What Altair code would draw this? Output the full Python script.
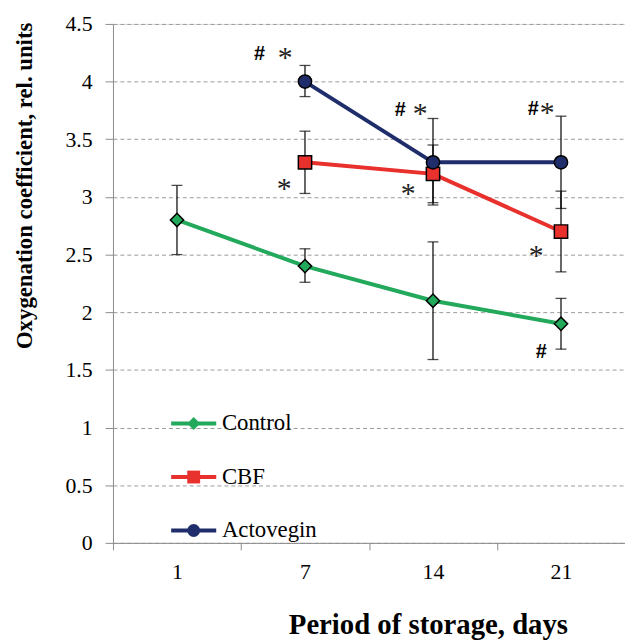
import altair as alt
import pandas as pd

# ---------------- data ----------------
days = ["1", "7", "14", "21"]
series_names = ["Control", "CBF", "Actovegin"]
colors = ["#23a95b", "#e8302d", "#1f2d6b"]
shapes = ["diamond", "square", "circle"]

control_days = ["1", "7", "14", "21"]
control_mean = [2.8, 2.4, 2.1, 1.9]
control_lo = [2.5, 2.26, 1.59, 1.68]
control_hi = [3.1, 2.55, 2.61, 2.12]

cbf_days = ["7", "14", "21"]
cbf_mean = [3.3, 3.2, 2.7]
cbf_lo = [3.03, 2.95, 2.35]
cbf_hi = [3.57, 3.45, 3.05]

act_days = ["7", "14", "21"]
act_mean = [4.0, 3.3, 3.3]
act_lo = [3.87, 2.93, 2.9]
act_hi = [4.14, 3.68, 3.7]

ann_text = ["#", "*", "*", "#", "*", "*", "#", "*", "*", "#"]
ann_day = ["7", "7", "7", "14", "14", "14", "21", "21", "21", "21"]
ann_y = [4.25, 4.25, 3.11, 3.76, 3.76, 3.07, 3.77, 3.77, 2.53, 1.66]
# horizontal nudges of the significance marks (style, px)
ann_dx = [-46, -20, -21, -33, -13, -25, -28, -14, -25, -20]

rows = []
for name, d, m, lo, hi in [
    ("Control", control_days, control_mean, control_lo, control_hi),
    ("CBF", cbf_days, cbf_mean, cbf_lo, cbf_hi),
    ("Actovegin", act_days, act_mean, act_lo, act_hi),
]:
    for i in range(len(d)):
        rows.append({"series": name, "group": name, "day": d[i], "value": m[i], "lo": lo[i], "hi": hi[i]})
df = pd.DataFrame(rows)

SERIF = "Liberation Serif"

x_enc = alt.X(
    "day:N",
    sort=days,
    scale=alt.Scale(type="band", domain=days, paddingInner=0, paddingOuter=0),
    axis=alt.Axis(
        title="Period of storage, days",
        titleFont=SERIF, titleFontSize=29, titleFontWeight="bold", titleColor="black",
        titleX=318, titleY=92, titleAlign="center", titleBaseline="alphabetic",
        labelFont=SERIF, labelFontSize=22, labelColor="black",
        labelAngle=0, labelPadding=12,
        tickBand="extent", tickSize=7, tickColor="#8c8c8c", domainColor="#8c8c8c",
        grid=False,
    ),
)
y_enc = alt.Y(
    "value:Q",
    scale=alt.Scale(domain=[0, 4.5], nice=False, zero=True),
    axis=alt.Axis(
        title="Oxygenation coefficient, rel. units",
        titleFont=SERIF, titleFontSize=23, titleFontWeight="bold", titleColor="black",
        titleX=-89, titleY=163, titleAngle=-90, titleAlign="center", titleBaseline="middle",
        labelFont=SERIF, labelFontSize=22, labelColor="black", labelPadding=13,
        values=[0, 0.5, 1, 1.5, 2, 2.5, 3, 3.5, 4, 4.5], format="~g",
        tickSize=8, tickColor="#8c8c8c", domainColor="#8c8c8c",
        grid=True, gridDash=[4, 3], gridColor="#9a9a9a", gridWidth=1,
    ),
)

base = alt.Chart(df)

rules = base.mark_rule(color="black", strokeWidth=1.2).encode(x=x_enc, y=alt.Y("lo:Q"), y2="hi:Q")
cap_lo = base.mark_tick(color="black", thickness=1.3, size=11).encode(x="day:N", y="lo:Q")
cap_hi = base.mark_tick(color="black", thickness=1.3, size=11).encode(x="day:N", y="hi:Q")

legend_common = dict(
    orient="none", legendX=70, legendY=392, title=None,
    labelFont=SERIF, labelFontSize=23, labelColor="black", labelOffset=17,
    rowPadding=30, padding=0, symbolSize=169,
)

# line part of the legend (stroke channel, sorted -> own legend)
lines = base.mark_line(strokeWidth=4).encode(
    x="day:N",
    y=y_enc,
    stroke=alt.Stroke(
        "series:N", sort=series_names, scale=alt.Scale(range=colors),
        legend=alt.Legend(symbolType="M-3.5,0H3.5", symbolStrokeWidth=4, zindex=1, **legend_common),
    ),
    order=alt.Order("day_idx:Q"),
).transform_calculate(day_idx="indexof(['1','7','14','21'], datum.day)")

# marker part of the legend (fill + shape share one explicit domain -> merged legend)
shape_legend = alt.Legend(symbolStrokeColor="black", symbolStrokeWidth=1.5, zindex=2,
                          labelOpacity=0, **legend_common)
points = base.mark_point(filled=True, opacity=1, fillOpacity=1, stroke="black", strokeWidth=1.5, size=180).encode(
    x="day:N",
    y="value:Q",
    fill=alt.Fill("group:N", scale=alt.Scale(domain=series_names, range=colors), legend=shape_legend),
    shape=alt.Shape("group:N", scale=alt.Scale(domain=series_names, range=shapes), legend=shape_legend),
)

ann_layers = []
for t, d, yv, dx in zip(ann_text, ann_day, ann_y, ann_dx):
    adf = pd.DataFrame({"day": [d], "y": [yv], "t": [t]})
    if t == "#":
        mk = alt.Chart(adf).mark_text(font="Liberation Sans", fontWeight="bold", fontSize=20,
                                      dx=dx, dy=7, baseline="alphabetic", color="black")
    else:
        mk = alt.Chart(adf).mark_text(font=SERIF, fontSize=30,
                                      dx=dx, dy=14, baseline="alphabetic", color="#222")
    ann_layers.append(mk.encode(x="day:N", y="y:Q", text="t:N"))

chart = alt.layer(rules, cap_lo, cap_hi, lines, points, *ann_layers).properties(
    width=517, height=524,
    autosize=alt.AutoSizeParams(type="none"),
    padding={"left": 106, "top": 13, "right": 0, "bottom": 98},
).configure_view(stroke=None).configure(background="white")

chart.save("out.html", embed_options={"renderer": "svg", "actions": False})
